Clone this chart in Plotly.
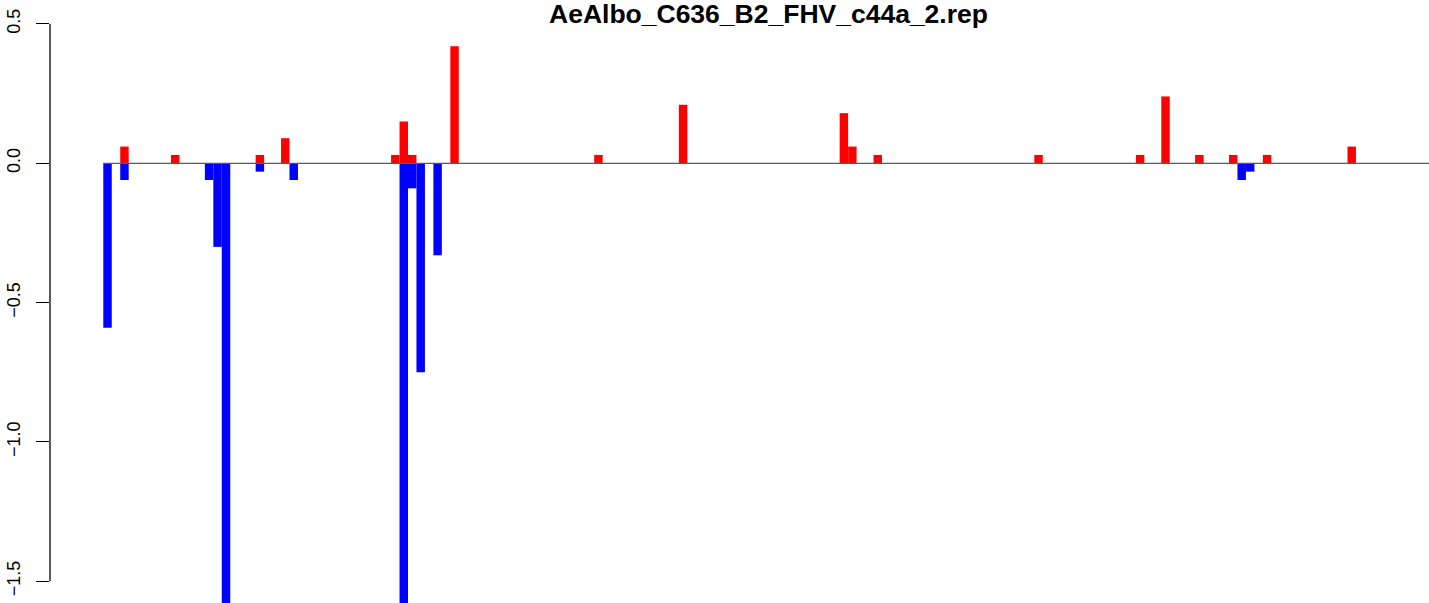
import plotly.graph_objects as go

title_text = "AeAlbo_C636_B2_FHV_c44a_2.rep"

# bar positions (index along the sequence) and values
pos_idx = [2, 8, 18, 21, 34, 35, 36, 41, 58, 68, 87, 88, 91, 110, 122, 125, 129, 133, 137, 147]
pos_val = [0.06, 0.03, 0.03, 0.09, 0.03, 0.15, 0.03, 0.42, 0.03, 0.21, 0.18, 0.06, 0.03,
           0.03, 0.03, 0.24, 0.03, 0.03, 0.03, 0.06]

neg_idx = [0, 2, 12, 13, 14, 18, 22, 35, 36, 37, 39, 134, 135]
neg_val = [-0.59, -0.06, -0.06, -0.30, -1.60, -0.03, -0.06, -1.60, -0.09, -0.75, -0.33, -0.06, -0.03]

y_ticks = [-1.5, -1.0, -0.5, 0.0, 0.5]
y_tick_labels = ["\u22121.5", "\u22121.0", "\u22120.5", "0.0", "0.5"]

X_RANGE = [-6.297, 156.63]
Y_RANGE = [-1.5783, 0.5861]

fig = go.Figure()
fig.add_trace(go.Bar(x=[i + 0.5 for i in pos_idx], y=pos_val, width=1,
                     marker=dict(color="#FF0000", line=dict(width=0)), showlegend=False))
fig.add_trace(go.Bar(x=[i + 0.5 for i in neg_idx], y=neg_val, width=1,
                     marker=dict(color="#0000FF", line=dict(width=0)), showlegend=False))

# zero line
fig.add_shape(type="line", xref="x", yref="y", x0=0, x1=X_RANGE[1], y0=0, y1=0,
              line=dict(color="#5a5a5a", width=1.3), layer="above")
# y axis line (R style, spans first to last tick)
fig.add_shape(type="line", xref="paper", yref="y", x0=0, x1=0, y0=y_ticks[0], y1=y_ticks[-1],
              line=dict(color="black", width=1.3))

fig.add_annotation(text="<b>" + title_text + "</b>", xref="paper", yref="y",
                   x=(768 - 50) / (1429 - 50), y=Y_RANGE[1] - 13.5 / 278.6,
                   xanchor="center", yanchor="middle", showarrow=False,
                   font=dict(family="Liberation Sans, Arial, sans-serif", size=26.5, color="black"))

fig.update_layout(
    width=1429, height=603,
    margin=dict(l=50, r=0, t=0, b=0, autoexpand=False),
    paper_bgcolor="white", plot_bgcolor="white",
    barmode="overlay",
    xaxis=dict(range=X_RANGE, visible=False, showgrid=False, zeroline=False, automargin=False),
    yaxis=dict(range=Y_RANGE, tickvals=y_ticks, ticktext=y_tick_labels, tickangle=-90,
               ticks="outside", ticklen=13, tickwidth=1.3, tickcolor="black",
               ticklabelstandoff=9,
               showgrid=False, zeroline=False, showline=False, automargin=False,
               tickfont=dict(family="Liberation Sans, Arial, sans-serif", size=18, color="black")),
)

fig.write_html("out.html", config={"displayModeBar": False},
               post_script="document.body.style.margin='0px';document.body.style.overflow='hidden';")
